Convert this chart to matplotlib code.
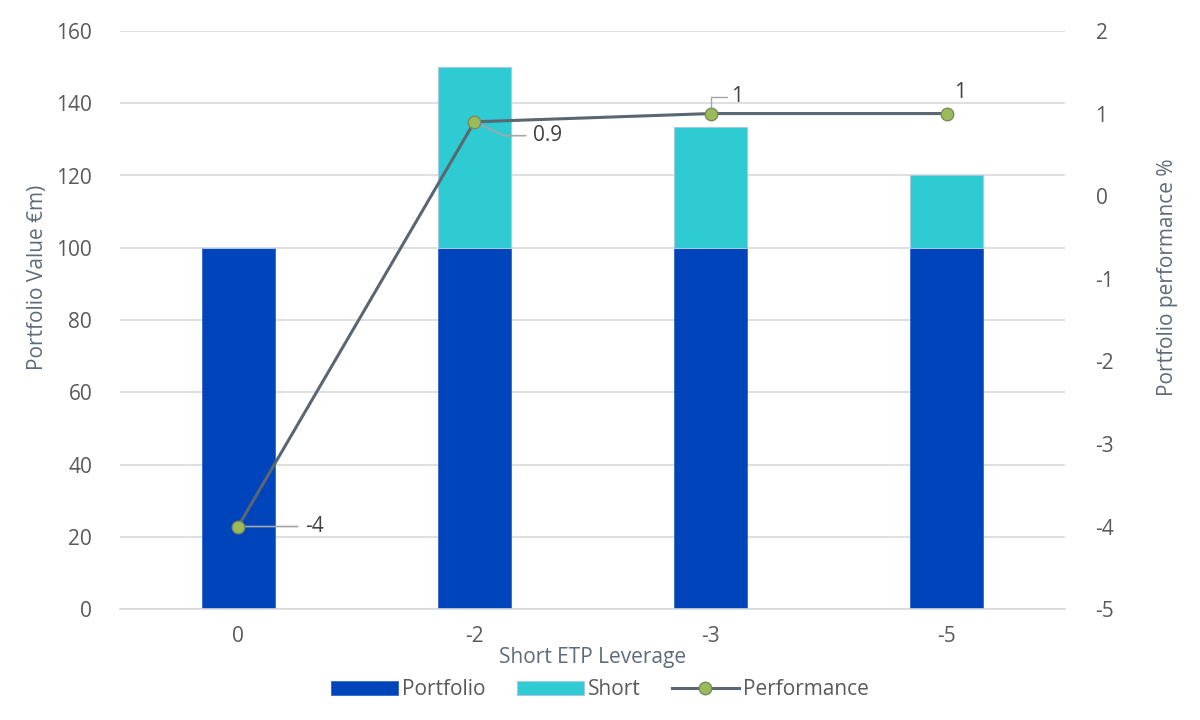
import matplotlib
matplotlib.use("Agg")
import matplotlib.pyplot as plt
import numpy as np

categories = ["0", "-2", "-3", "-5"]
portfolio = [100, 100, 100, 100]
short = [0, 50, 33.3, 20]
performance = [-4, 0.9, 1, 1]
perf_labels = ["-4", "0.9", "1", "1"]

plt.rcParams['font.family'] = ['Open Sans', 'DejaVu Sans']
plt.rcParams['axes.unicode_minus'] = False

fig = plt.figure(figsize=(12, 7.2), dpi=100)
ax = fig.add_axes([0.10, 0.154, 0.7875, 0.803])
ax2 = ax.twinx()

x = np.arange(len(categories))
w = 0.31
tick_col = "#595959"
lab_col = "#5f6b78"
fs = 15

ax.bar(x, portfolio, w, color="#0044bb", edgecolor="#3366cc", linewidth=0.6, label="Portfolio", zorder=2)
ax.bar(x, short, w, bottom=portfolio, color="#2ecbd2", edgecolor="#a8c8e8", linewidth=0.8, label="Short", zorder=2)

ax.set_xlim(-0.5, len(categories) - 0.5)
ax.set_ylim(0, 160)
ax.set_yticks(range(0, 161, 20))
ax.grid(axis="y", color="#d9d9d9", linewidth=1.2, zorder=0)
ax.set_axisbelow(True)
for s in ["top", "left", "right"]:
    ax.spines[s].set_visible(False)
    ax2.spines[s].set_visible(False)
ax.spines["bottom"].set_color("#d9d9d9")
ax.spines["bottom"].set_linewidth(1.2)
ax2.spines["bottom"].set_visible(False)
ax.set_xticks(x)
ax.set_xticklabels(categories)
ax.tick_params(axis="both", length=0, labelsize=fs, colors=tick_col, pad=12)
ax.tick_params(axis="y", pad=20)

ax2.set_ylim(-5, 2)
ax2.set_yticks(range(-5, 3))
ax2.tick_params(axis="y", length=0, labelsize=fs, colors=tick_col, pad=22)

ln, = ax2.plot(x, performance, color="#5a6670", linewidth=2.2, marker="o", markersize=9,
               markerfacecolor="#9bbb59", markeredgecolor="#7a8a60", markeredgewidth=1, label="Performance", zorder=5)

ann_col = "#a6a6a6"
ax2.annotate(perf_labels[0], xy=(x[0], performance[0]), xytext=(48, 0), textcoords="offset points",
             fontsize=fs, color="#404040", va="center", ha="left",
             arrowprops=dict(arrowstyle="-", color=ann_col, lw=1.2, shrinkA=3, shrinkB=2))
ax2.annotate(perf_labels[1], xy=(x[1], performance[1]), xytext=(42, -10), textcoords="offset points",
             fontsize=fs, color="#404040", va="center", ha="left",
             arrowprops=dict(arrowstyle="-", color=ann_col, lw=1.2, shrinkA=3, shrinkB=2,
                             connectionstyle="angle,angleA=180,angleB=-25,rad=0"))
ax2.annotate(perf_labels[2], xy=(x[2], performance[2]), xytext=(15, 12), textcoords="offset points",
             fontsize=fs, color="#404040", va="center", ha="left",
             arrowprops=dict(arrowstyle="-", color=ann_col, lw=1.0, shrinkA=1, shrinkB=3,
                             connectionstyle="angle,angleA=0,angleB=90,rad=0"))
ax2.annotate(perf_labels[3], xy=(x[3], performance[3]), xytext=(5, 15), textcoords="offset points",
             fontsize=fs, color="#404040", va="center", ha="left")

ax.set_ylabel("Portfolio Value €m)", fontsize=fs, color=lab_col, labelpad=6)
ax2.set_ylabel("Portfolio performance %", fontsize=fs, color=lab_col, labelpad=31)
ax.yaxis.label.set_y(0.574)
ax2.yaxis.label.set_y(0.574)
ax.set_xlabel("Short ETP Leverage", fontsize=fs, color=lab_col, labelpad=0)

handles = [ax.patches[0], ax.patches[len(categories)], ln]
leg = fig.legend(handles, ["Portfolio", "Short", "Performance"], loc="center", bbox_to_anchor=(0.5, 0.042),
                 ncol=3, frameon=False, fontsize=fs, handlelength=3.2, handletextpad=0.2, columnspacing=1.5)
for t in leg.get_texts():
    t.set_color(tick_col)

fig.savefig("out.png", dpi=100)
